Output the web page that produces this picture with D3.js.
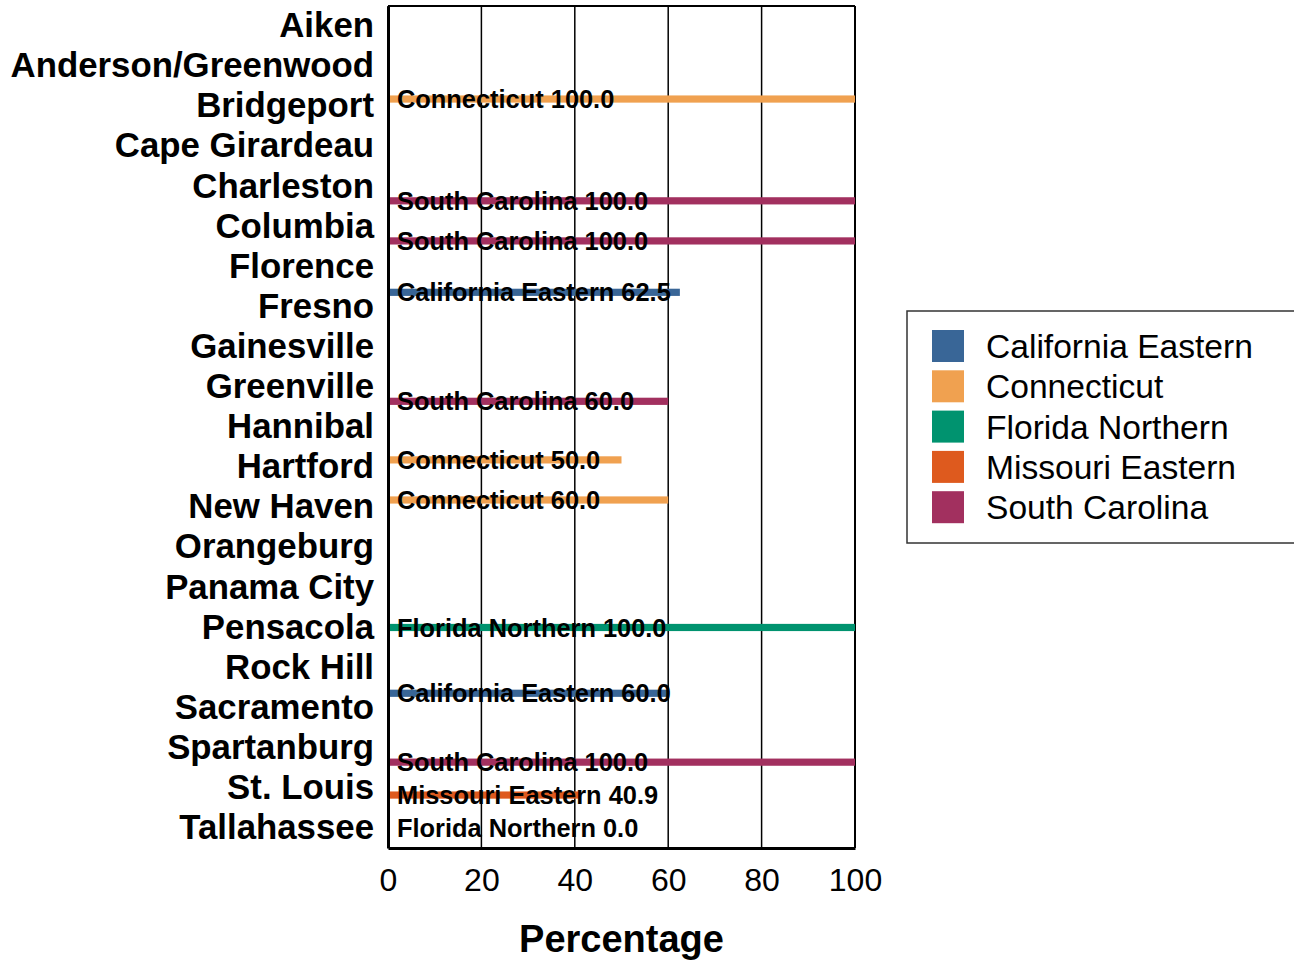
<!DOCTYPE html>
<html>
<head>
<meta charset="utf-8">
<script src="https://cdn.jsdelivr.net/npm/d3@7"></script>
<style>
  body { margin: 0; background: #fff; }
  text { font-family: Arial, "Liberation Sans", sans-serif; }
</style>
</head>
<body>
<script>
// categories
var cities = ["Aiken", "Anderson/Greenwood", "Bridgeport", "Cape Girardeau", "Charleston",
  "Columbia", "Florence", "Fresno", "Gainesville", "Greenville", "Hannibal", "Hartford",
  "New Haven", "Orangeburg", "Panama City", "Pensacola", "Rock Hill", "Sacramento",
  "Spartanburg", "St. Louis", "Tallahassee"];

var seriesNames = ["California Eastern", "Connecticut", "Florida Northern", "Missouri Eastern", "South Carolina"];
var seriesColors = ["#396697", "#f0a150", "#00936f", "#de5a1e", "#a2305f"];

// bars that are present (city, series, value)
var barCity = ["Bridgeport", "Charleston", "Columbia", "Fresno", "Greenville", "Hartford",
  "New Haven", "Pensacola", "Sacramento", "Spartanburg", "St. Louis", "Tallahassee"];
var barSeries = ["Connecticut", "South Carolina", "South Carolina", "California Eastern",
  "South Carolina", "Connecticut", "Connecticut", "Florida Northern", "California Eastern",
  "South Carolina", "Missouri Eastern", "Florida Northern"];
var barValue = [100.0, 100.0, 100.0, 62.5, 60.0, 50.0, 60.0, 100.0, 60.0, 100.0, 40.9, 0.0];

var xTicks = [0, 20, 40, 60, 80, 100];

var data = barCity.map(function(c, i) {
  return { city: c, series: barSeries[i], value: barValue[i] };
});

var W = 1294, H = 960;
var margin = { top: 6, right: 439, bottom: 112, left: 388 },
    width = W - margin.left - margin.right,
    height = H - margin.top - margin.bottom;

var svg = d3.select("body").append("svg")
    .attr("width", W)
    .attr("height", H);

var g = svg.append("g")
    .attr("transform", "translate(" + margin.left + "," + margin.top + ")");

var x = d3.scaleLinear().domain([0, 100]).range([0, width]);
var y = d3.scaleBand().domain(cities).range([0, height]);
var y1 = d3.scaleBand().domain(seriesNames).range([-18, 18]);
var color = d3.scaleOrdinal().domain(seriesNames).range(seriesColors);

// gridlines
g.selectAll(".grid")
    .data(xTicks)
    .enter().append("line")
    .attr("x1", function(d) { return x(d); })
    .attr("x2", function(d) { return x(d); })
    .attr("y1", 0)
    .attr("y2", height)
    .attr("stroke", "#000")
    .attr("stroke-width", function(d) { return d === 100 ? 2 : 1.5; });

// top frame line
g.append("line")
    .attr("x1", 0).attr("x2", width)
    .attr("y1", 0).attr("y2", 0)
    .attr("stroke", "#000").attr("stroke-width", 2);

// bars
g.selectAll(".bar")
    .data(data)
    .enter().append("rect")
    .attr("class", "bar")
    .attr("x", 0)
    .attr("y", function(d) { return y(d.city) + y.bandwidth() / 2 + y1(d.series); })
    .attr("width", function(d) { return x(d.value); })
    .attr("height", y1.bandwidth())
    .attr("fill", function(d) { return color(d.series); });

// bar labels
g.selectAll(".lbl")
    .data(data)
    .enter().append("text")
    .attr("x", 9)
    .attr("y", function(d) { return y(d.city) + y.bandwidth() / 2 + y1(d.series) + y1.bandwidth() / 2; })
    .attr("dy", "0.36em")
    .style("font-size", "25.4px")
    .style("font-weight", "bold")
    .text(function(d) { return d.series + " " + d.value.toFixed(1); });

// y axis
var yAxis = g.append("g").call(d3.axisLeft(y).tickSize(0).tickPadding(14));
yAxis.select(".domain").attr("stroke", "#000").attr("stroke-width", 3);
yAxis.selectAll("text")
    .style("font-size", "34.8px")
    .style("font-weight", "bold")
    .attr("fill", "#000");

// x axis
var xAxis = g.append("g")
    .attr("transform", "translate(0," + height + ")")
    .call(d3.axisBottom(x).tickValues(xTicks).tickSize(0).tickPadding(20));
xAxis.select(".domain").attr("stroke", "#000").attr("stroke-width", 3);
xAxis.selectAll("text")
    .style("font-size", "32px")
    .attr("fill", "#000");

// x title
svg.append("text")
    .attr("x", margin.left + width / 2)
    .attr("y", 938)
    .attr("dy", "0.36em")
    .attr("text-anchor", "middle")
    .style("font-size", "38px")
    .style("font-weight", "bold")
    .text("Percentage");

// legend
var legend = svg.append("g").attr("transform", "translate(907,311)");
legend.append("rect")
    .attr("x", 0).attr("y", 0)
    .attr("width", 400).attr("height", 232)
    .attr("fill", "none")
    .attr("stroke", "#333")
    .attr("stroke-width", 1.5);

var item = legend.selectAll(".item")
    .data(seriesNames)
    .enter().append("g")
    .attr("transform", function(d, i) { return "translate(25," + (19 + i * 40.3) + ")"; });

item.append("rect")
    .attr("width", 32).attr("height", 32)
    .attr("fill", function(d) { return color(d); });

item.append("text")
    .attr("x", 54)
    .attr("y", 16)
    .attr("dy", "0.36em")
    .style("font-size", "33.6px")
    .text(function(d) { return d; });
</script>
</body>
</html>
